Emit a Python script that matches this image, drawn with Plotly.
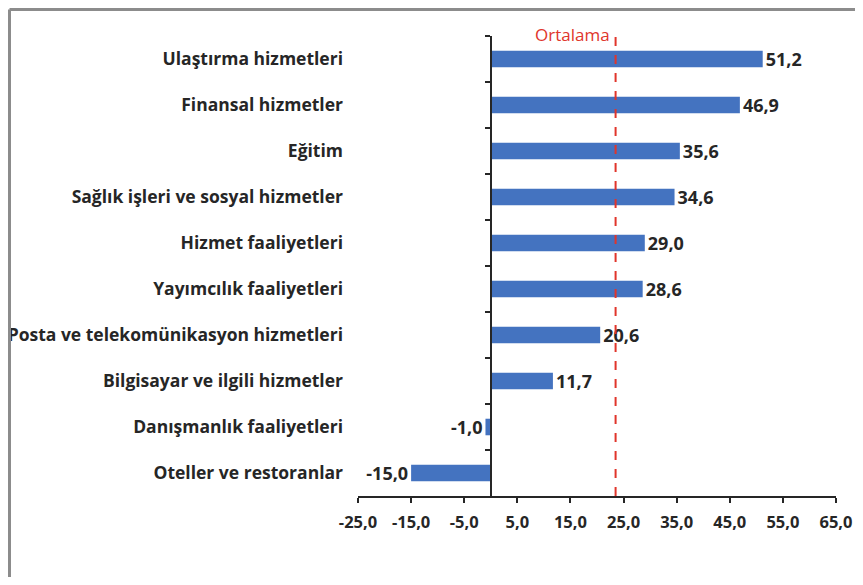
import plotly.graph_objects as go

categories = [
    "Ulaştırma hizmetleri",
    "Finansal hizmetler",
    "Eğitim",
    "Sağlık işleri ve sosyal hizmetler",
    "Hizmet faaliyetleri",
    "Yayımcılık faaliyetleri",
    "Posta ve telekomünikasyon hizmetleri",
    "Bilgisayar ve ilgili hizmetler",
    "Danışmanlık faaliyetleri",
    "Oteller ve restoranlar",
]
values = [51.2, 46.9, 35.6, 34.6, 29.0, 28.6, 20.6, 11.7, -1.0, -15.0]
average = 23.5
average_label = "Ortalama"
x_ticks = [-25, -15, -5, 5, 15, 25, 35, 45, 55, 65]
x_tick_labels = ["-25,0", "-15,0", "-5,0", "5,0", "15,0", "25,0", "35,0", "45,0", "55,0", "65,0"]

def fmt(v):
    return f"{v:.1f}".replace(".", ",")

FONT = "Open Sans"
DARK = "#262626"
BLUE = "#4473C0"
RED = "#E0352B"

W, H = 847, 569
ML, MR, MT, MB = 350, 19, 28, 81
PW, PH = W - ML - MR, H - MT - MB

x_range = [-25, 65]
zero_pos = (0 - x_range[0]) / (x_range[1] - x_range[0])

fig = go.Figure()
fig.add_trace(go.Bar(
    y=categories, x=values, orientation="h",
    marker=dict(color=BLUE, line=dict(width=0)),
    text=[fmt(v) for v in values],
    textposition="outside",
    constraintext="none",
    textfont=dict(family=FONT, size=18, color=DARK, weight="bold"),
    cliponaxis=False,
    hoverinfo="skip",
    xaxis="x", yaxis="y",
))
# invisible twin trace so the zero-line category axis is drawn
fig.add_trace(go.Bar(
    y=categories, x=[0] * len(values), orientation="h",
    marker=dict(color="rgba(0,0,0,0)"), hoverinfo="skip",
    showlegend=False, xaxis="x", yaxis="y2",
))

fig.add_shape(type="line", xref="x", yref="paper", x0=average, x1=average, y0=0, y1=1.01,
              line=dict(color=RED, width=2, dash="dash"))
fig.add_annotation(x=average, y=1.0, xref="x", yref="paper", text=average_label,
                   showarrow=False, xanchor="right", yanchor="middle", xshift=-4, yshift=2,
                   font=dict(family=FONT, size=17, color=RED))

# outer frame (left and top edges)
fx = (1.5 - ML) / PW
fy = 1 + (MT - 1.5) / PH
fig.add_shape(type="line", xref="paper", yref="paper", x0=fx, x1=fx, y0=-MB / PH, y1=fy,
              line=dict(color="#8C8C8C", width=3))
fig.add_shape(type="line", xref="paper", yref="paper", x0=fx, x1=1 + MR / PW, y0=fy, y1=fy,
              line=dict(color="#8C8C8C", width=3))

fig.update_layout(
    width=W, height=H,
    margin=dict(l=ML, r=MR, t=MT, b=MB, autoexpand=False),
    paper_bgcolor="white", plot_bgcolor="white",
    showlegend=False, bargap=0.64,
    barmode="overlay",
    xaxis=dict(
        range=x_range, tickvals=x_ticks, ticktext=x_tick_labels,
        showgrid=False, zeroline=False, showline=True, linecolor=DARK, linewidth=2,
        ticks="outside", ticklen=5, tickwidth=2, tickcolor=DARK,
        ticklabelstandoff=5, ticklabeloverflow="allow",
        tickfont=dict(family=FONT, size=16.5, color=DARK, weight="bold"),
        automargin=False,
    ),
    yaxis=dict(
        type="category", categoryorder="array", categoryarray=categories,
        range=[len(categories) - 0.5, -0.5],
        showgrid=False, zeroline=False, showline=False, ticks="",
        ticklabelstandoff=14,
        tickfont=dict(family=FONT, size=17.5, color=DARK, weight="bold"),
        automargin=False,
    ),
    yaxis2=dict(
        type="category", categoryorder="array", categoryarray=categories,
        range=[len(categories) - 0.5, -0.5],
        overlaying="y", anchor="free", position=zero_pos, side="left",
        showgrid=False, zeroline=False, showline=True, linecolor=DARK, linewidth=2,
        ticks="outside", tickson="boundaries", ticklen=5, tickwidth=2, tickcolor=DARK,
        showticklabels=False, automargin=False,
    ),
)

fig.write_html("out.html")
